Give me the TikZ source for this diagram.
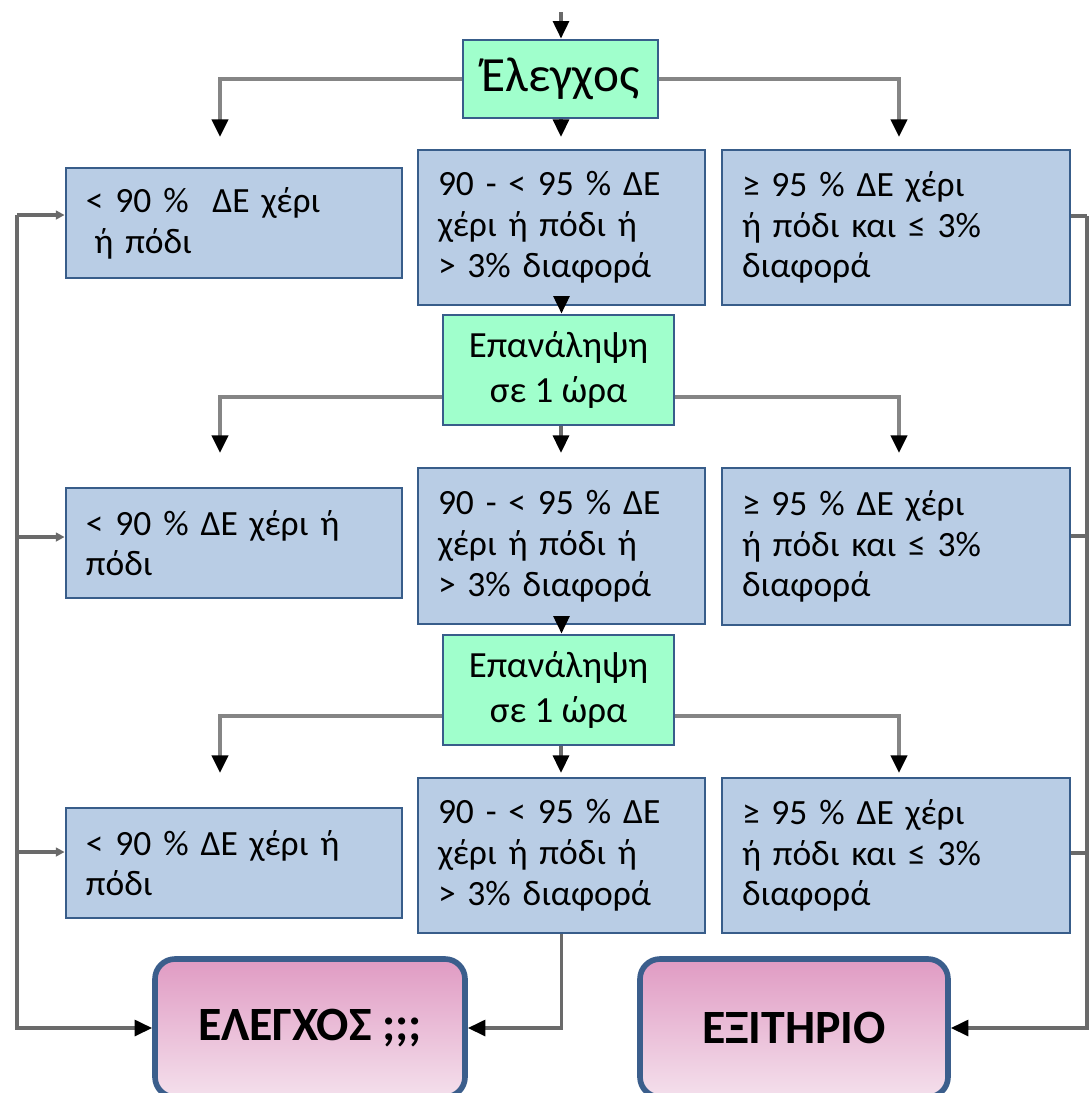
\documentclass[tikz,border=0pt]{standalone}
\usepackage{fontspec}
\setmainfont{Carlito}
\usetikzlibrary{arrows.meta,calc}
\definecolor{boxblue}{HTML}{B9CDE5}
\definecolor{edgeblue}{HTML}{385D8A}
\definecolor{mint}{HTML}{A0FFCC}
\definecolor{pinktop}{HTML}{E09BC3}
\definecolor{pinkbot}{HTML}{F4E0EC}
\definecolor{pinkedge}{HTML}{3B5E8C}
\definecolor{linegray}{HTML}{6A6A6A}
\definecolor{lightgray}{HTML}{858585}
\begin{document}
\begin{tikzpicture}[
 bluebox/.style={draw=edgeblue, line width=0.8pt, fill=boxblue, inner xsep=0.2cm, inner ysep=0pt, align=left, font=\fontsize{10.1}{11.6}\selectfont},
 greenbox/.style={draw=edgeblue, line width=0.8pt, fill=mint, align=center, inner sep=0pt},
 pinkbox/.style={draw=pinkedge, line width=1.6pt, rounded corners=0.2cm, top color=pinktop, bottom color=pinkbot, font=\fontsize{13.6}{15}\selectfont\bfseries, inner sep=0pt},
 conn/.style={draw=linegray, line width=1pt},
 mainconn/.style={draw=lightgray, line width=1.2pt},
 arr/.style={-{Triangle[width=4.5pt,length=5pt,color=black]}},
 tinyarr/.style={-{Triangle[width=2.5pt,length=2.5pt]}}
]
\useasboundingbox (0,0) rectangle (10.9,-10.93);
\clip (0,0) rectangle (10.9,-10.93);

% green decision boxes
\node[greenbox, minimum width=1.95cm, minimum height=0.78cm, font=\fontsize{14}{16}\selectfont] (g0) at (5.605,-0.79) {Έλεγχος};
\node[greenbox, minimum width=2.31cm, minimum height=1.10cm, font=\fontsize{10.5}{13}\selectfont] (g1) at (5.585,-3.70) {Επανάληψη\\σε 1 ώρα};
\node[greenbox, minimum width=2.31cm, minimum height=1.10cm, font=\fontsize{10.5}{13}\selectfont] (g2) at (5.585,-6.90) {Επανάληψη\\σε 1 ώρα};

% row 1
\node[bluebox, text width=2.96cm, minimum height=1.10cm] (b1L) at (2.34,-2.23) {<~90~\%~~ΔΕ χέρι\\\hspace*{2.4pt}ή πόδι};
\node[bluebox, text width=2.47cm, minimum height=1.55cm] (b1M) at (5.615,-2.275) {90 - <~95~\% ΔΕ\\χέρι ή πόδι ή\\>~3\% διαφορά};
\node[bluebox, text width=3.08cm, minimum height=1.55cm] (b1R) at (8.96,-2.275) {≥~95~\% ΔΕ χέρι\\ή πόδι και ≤~3\%\\διαφορά};

% row 2
\node[bluebox, text width=2.96cm, minimum height=1.10cm] (b2L) at (2.34,-5.43) {<~90~\% ΔΕ χέρι ή\\πόδι};
\node[bluebox, text width=2.47cm, minimum height=1.56cm] (b2M) at (5.615,-5.46) {90 - <~95~\% ΔΕ\\χέρι ή πόδι ή\\>~3\% διαφορά};
\node[bluebox, text width=3.08cm, minimum height=1.57cm] (b2R) at (8.96,-5.465) {≥~95~\% ΔΕ χέρι\\ή πόδι και ≤~3\%\\διαφορά};

% row 3
\node[bluebox, text width=2.96cm, minimum height=1.10cm] (b3L) at (2.34,-8.63) {<~90~\% ΔΕ χέρι ή\\πόδι};
\node[bluebox, text width=2.47cm, minimum height=1.55cm] (b3M) at (5.615,-8.555) {90 - <~95~\% ΔΕ\\χέρι ή πόδι ή\\>~3\% διαφορά};
\node[bluebox, text width=3.08cm, minimum height=1.55cm] (b3R) at (8.96,-8.555) {≥~95~\% ΔΕ χέρι\\ή πόδι και ≤~3\%\\διαφορά};

% outcome boxes
\node[pinkbox, minimum width=3.10cm, minimum height=1.38cm] (p1) at (3.10,-10.28) {ΕΛΕΓΧΟΣ ;;;};
\node[pinkbox, minimum width=3.08cm, minimum height=1.38cm] (p2) at (7.94,-10.28) {ΕΞΙΤΗΡΙΟ};

% free ends
\coordinate (top) at (5.61,-0.12);
\coordinate (a1L) at (2.20,-1.37);
\coordinate (a1R) at (8.99,-1.37);
\coordinate (a1M) at (5.61,-1.37);
\coordinate (a2L) at (2.20,-4.53);
\coordinate (a2R) at (8.99,-4.53);
\coordinate (a2M) at (5.61,-4.53);
\coordinate (a3L) at (2.20,-7.73);
\coordinate (a3R) at (8.99,-7.73);
\coordinate (a3M) at (5.61,-7.73);
\coordinate (lv) at (0.17,-2.15);
\coordinate (rv) at (10.87,-2.16);

% top tree
\draw[conn,arr] (top) -- (top |- g0.north);
\draw[mainconn,arr] (g0.west) -| (a1L);
\draw[mainconn,arr] (g0.east) -| (a1R);
\draw[conn,arr] (g0.south -| a1M) -- (a1M);

% second tree
\draw[conn,arr] (b1M.south) -- (b1M.south |- g1.north);
\path (g1.west) ++(0,-0.27) coordinate (g1w);
\path (g1.east) ++(0,-0.27) coordinate (g1e);
\draw[mainconn,arr] (g1w) -| (a2L);
\draw[mainconn,arr] (g1e) -| (a2R);
\draw[conn,arr] (g1.south -| a2M) -- (a2M);

% third tree
\draw[conn,arr] (b2M.south) -- (b2M.south |- g2.north);
\path (g2.west) ++(0,-0.26) coordinate (g2w);
\path (g2.east) ++(0,-0.26) coordinate (g2e);
\draw[mainconn,arr] (g2w) -| (a3L);
\draw[mainconn,arr] (g2e) -| (a3R);
\draw[conn,arr] (g2.south -| a3M) -- (a3M);

% left collector
\draw[conn,tinyarr] (lv) -- (lv -| b1L.west);
\path (b2L.west) ++(0,0.06) coordinate (e2L);
\path (b3L.west) ++(0,0.11) coordinate (e3L);
\draw[conn,tinyarr] (e2L -| lv) -- (e2L);
\draw[conn,tinyarr] (e3L -| lv) -- (e3L);
\draw[conn,arr] (lv) |- (p1.west);

% right collector
\draw[conn] (b1R.east |- rv) -- (rv);
\path (b2R.east) ++(0,0.105) coordinate (e2R);
\path (b3R.east) ++(0,0.025) coordinate (e3R);
\draw[conn] (e2R) -- (e2R -| rv);
\draw[conn] (e3R) -- (e3R -| rv);
\draw[conn,arr] (rv) |- (p2.east);

% middle to ELEGXOS
\draw[conn,arr] (b3M.south) |- (p1.east);
\end{tikzpicture}
\end{document}
